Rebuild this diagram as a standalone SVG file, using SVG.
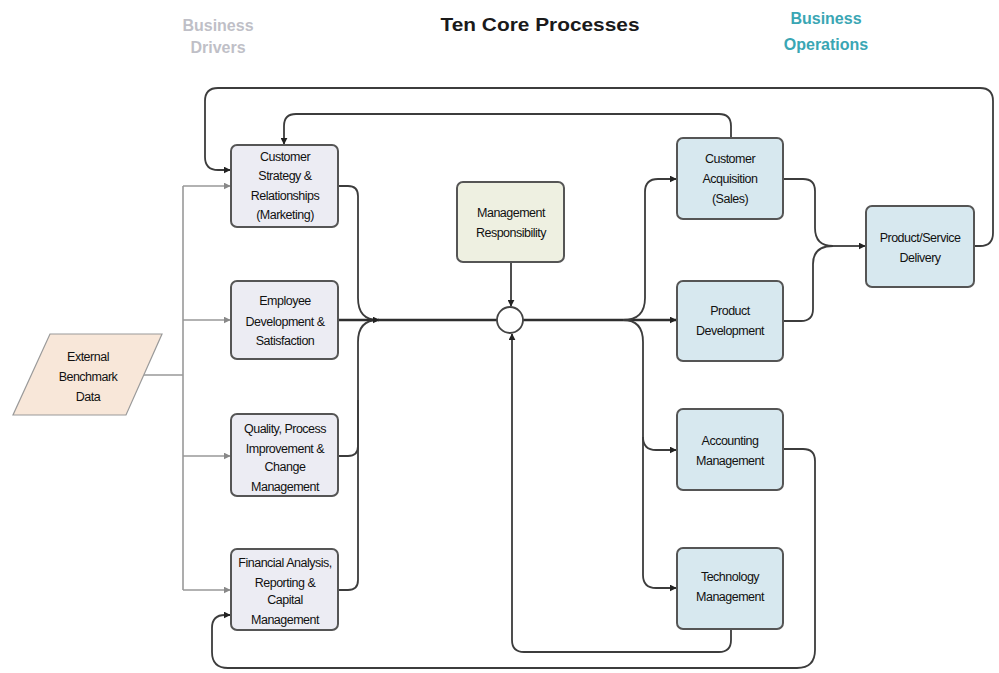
<svg xmlns="http://www.w3.org/2000/svg" width="999" height="673" viewBox="0 0 999 673">
  <style>
    .t { font-family: "Liberation Sans", Arial, sans-serif; font-size: 12.5px; fill: #111; text-anchor: middle; letter-spacing: -0.5px; }
    .h { font-family: "Liberation Sans", Arial, sans-serif; font-weight: bold; text-anchor: middle; }
    .driver { fill: #ececf3; stroke: #555; stroke-width: 2; }
    .ops { fill: #d7e8ef; stroke: #555; stroke-width: 2; }
    .mgmt { fill: #eef0e1; stroke: #555; stroke-width: 2; }
    .ext { fill: #f8e7d9; stroke: #9a9a9a; stroke-width: 1.2; }
    .c { fill: none; stroke: #3c3c3c; stroke-width: 1.8; }
    .bus { fill: none; stroke: #2e2e2e; stroke-width: 2.4; }
    .g { fill: none; stroke: #999; stroke-width: 1.6; }
  </style>
  <defs>
    <marker id="ah" viewBox="0 0 10 10" refX="9" refY="5" markerWidth="7" markerHeight="7" orient="auto" markerUnits="userSpaceOnUse">
      <path d="M0,0 L10,5 L0,10 z" fill="#222"/>
    </marker>
    <marker id="ag" viewBox="0 0 10 10" refX="9" refY="5" markerWidth="7" markerHeight="7" orient="auto" markerUnits="userSpaceOnUse">
      <path d="M0,0 L10,5 L0,10 z" fill="#888"/>
    </marker>
  </defs>

  <rect width="999" height="673" fill="#fff"/>

  <!-- headings -->
  <g id="headings">
    <text class="h" x="218" y="31" font-size="16" fill="#bfbfc7">Business</text>
    <text class="h" x="218" y="53" font-size="16" fill="#bfbfc7">Drivers</text>
    <text class="h" x="540" y="31" font-size="18" fill="#1a1a1a" textLength="199" lengthAdjust="spacingAndGlyphs">Ten Core Processes</text>
    <text class="h" x="826" y="24" font-size="16" fill="#3aa6b4">Business</text>
    <text class="h" x="826" y="50" font-size="16" fill="#3aa6b4">Operations</text>
  </g>

  <!-- connectors -->
  <g id="connectors">
    <!-- benchmark data feed -->
    <path class="g" d="M144,375 H183"/>
    <path class="g" d="M183,186 V590"/>
    <path class="g" d="M183,186 H230" marker-end="url(#ag)"/>
    <path class="g" d="M183,320 H230" marker-end="url(#ag)"/>
    <path class="g" d="M183,456 H230" marker-end="url(#ag)"/>
    <path class="g" d="M183,590 H230" marker-end="url(#ag)"/>

    <!-- feedback loops -->
    <path class="c" d="M974,246 H980 Q993,246 993,233 V101 Q993,88 980,88 H218 Q205,88 205,101 V157 Q205,170 218,170 H230" marker-end="url(#ah)"/>
    <path class="c" d="M731,138 V126 Q731,114 719,114 H296 Q284,114 284,126 V144" marker-end="url(#ah)"/>
    <path class="c" d="M783,449 H803 Q815,449 815,461 V650 Q815,668 797,668 H228 Q212,668 212,652 V628 Q212,615 225,615 H230" marker-end="url(#ah)"/>
    <path class="c" d="M731,629 V640 Q731,652 719,652 H524 Q512,652 512,640 V334" marker-end="url(#ah)"/>

    <!-- drivers merging into the main line -->
    <path class="c" d="M338,186 H348 Q358,186 358,196 V298 Q358,320 378,320"/>
    <path class="c" d="M338,456 H348 Q358,456 358,446 V342 Q358,320 378,320"/>
    <path class="c" d="M338,590 H348 Q358,590 358,580 V400"/>
    <path class="bus" d="M338,320 H379" marker-end="url(#ah)"/>
    <path class="bus" d="M378,320 H497"/>

    <!-- management input -->
    <path class="c" d="M511,262 V306" marker-end="url(#ah)"/>

    <!-- distribution to operations -->
    <path class="bus" d="M523,320 H676" marker-end="url(#ah)"/>
    <path class="c" d="M623,320 Q645,320 645,298 V192 Q645,179 658,179 H676" marker-end="url(#ah)"/>
    <path class="c" d="M623,320 Q643,320 643,342 V437 Q643,450 656,450 H676" marker-end="url(#ah)"/>
    <path class="c" d="M643,437 V575 Q643,588 656,588 H676" marker-end="url(#ah)"/>

    <!-- into delivery -->
    <path class="c" d="M783,179 H803 Q815,179 815,191 V228 Q815,246 833,246"/>
    <path class="c" d="M783,321 H801 Q813,321 813,309 V264 Q813,246 833,246"/>
    <path class="c" d="M833,246 H865" marker-end="url(#ah)"/>
  </g>

  <!-- nodes -->
  <g id="external-data">
    <polygon class="ext" points="50,334 162,334 126,415 13,415"/>
    <text class="t" x="88" y="361">External</text>
    <text class="t" x="88" y="381">Benchmark</text>
    <text class="t" x="88" y="401">Data</text>
  </g>

  <g id="customer-strategy">
    <rect class="driver" x="231" y="145" width="107" height="82" rx="6"/>
    <text class="t" x="285" y="161">Customer</text>
    <text class="t" x="285" y="180">Strategy &amp;</text>
    <text class="t" x="285" y="200">Relationships</text>
    <text class="t" x="285" y="219">(Marketing)</text>
  </g>

  <g id="employee-development">
    <rect class="driver" x="231" y="281" width="107" height="78" rx="6"/>
    <text class="t" x="285" y="305">Employee</text>
    <text class="t" x="285" y="326">Development &amp;</text>
    <text class="t" x="285" y="345">Satisfaction</text>
  </g>

  <g id="quality-process">
    <rect class="driver" x="231" y="414" width="107" height="82" rx="6"/>
    <text class="t" x="285" y="433">Quality, Process</text>
    <text class="t" x="285" y="453">Improvement &amp;</text>
    <text class="t" x="285" y="471">Change</text>
    <text class="t" x="285" y="491">Management</text>
  </g>

  <g id="financial-analysis">
    <rect class="driver" x="231" y="549" width="107" height="81" rx="6"/>
    <text class="t" x="285" y="567">Financial Analysis,</text>
    <text class="t" x="285" y="587">Reporting &amp;</text>
    <text class="t" x="285" y="604">Capital</text>
    <text class="t" x="285" y="624">Management</text>
  </g>

  <g id="management-responsibility">
    <rect class="mgmt" x="457" y="182" width="107" height="80" rx="6"/>
    <text class="t" x="511" y="217">Management</text>
    <text class="t" x="511" y="237">Responsibility</text>
  </g>

  <g id="junction">
    <circle cx="510" cy="320" r="13" fill="#fff" stroke="#444" stroke-width="1.8"/>
  </g>

  <g id="customer-acquisition">
    <rect class="ops" x="677" y="138" width="106" height="81" rx="6"/>
    <text class="t" x="730" y="163">Customer</text>
    <text class="t" x="730" y="183">Acquisition</text>
    <text class="t" x="730" y="203">(Sales)</text>
  </g>

  <g id="product-development">
    <rect class="ops" x="677" y="281" width="106" height="80" rx="6"/>
    <text class="t" x="730" y="315">Product</text>
    <text class="t" x="730" y="335">Development</text>
  </g>

  <g id="accounting-management">
    <rect class="ops" x="677" y="409" width="106" height="81" rx="6"/>
    <text class="t" x="730" y="445">Accounting</text>
    <text class="t" x="730" y="465">Management</text>
  </g>

  <g id="technology-management">
    <rect class="ops" x="677" y="548" width="106" height="81" rx="6"/>
    <text class="t" x="730" y="581">Technology</text>
    <text class="t" x="730" y="601">Management</text>
  </g>

  <g id="product-service-delivery">
    <rect class="ops" x="866" y="206" width="108" height="81" rx="6"/>
    <text class="t" x="920" y="242">Product/Service</text>
    <text class="t" x="920" y="262">Delivery</text>
  </g>
</svg>
